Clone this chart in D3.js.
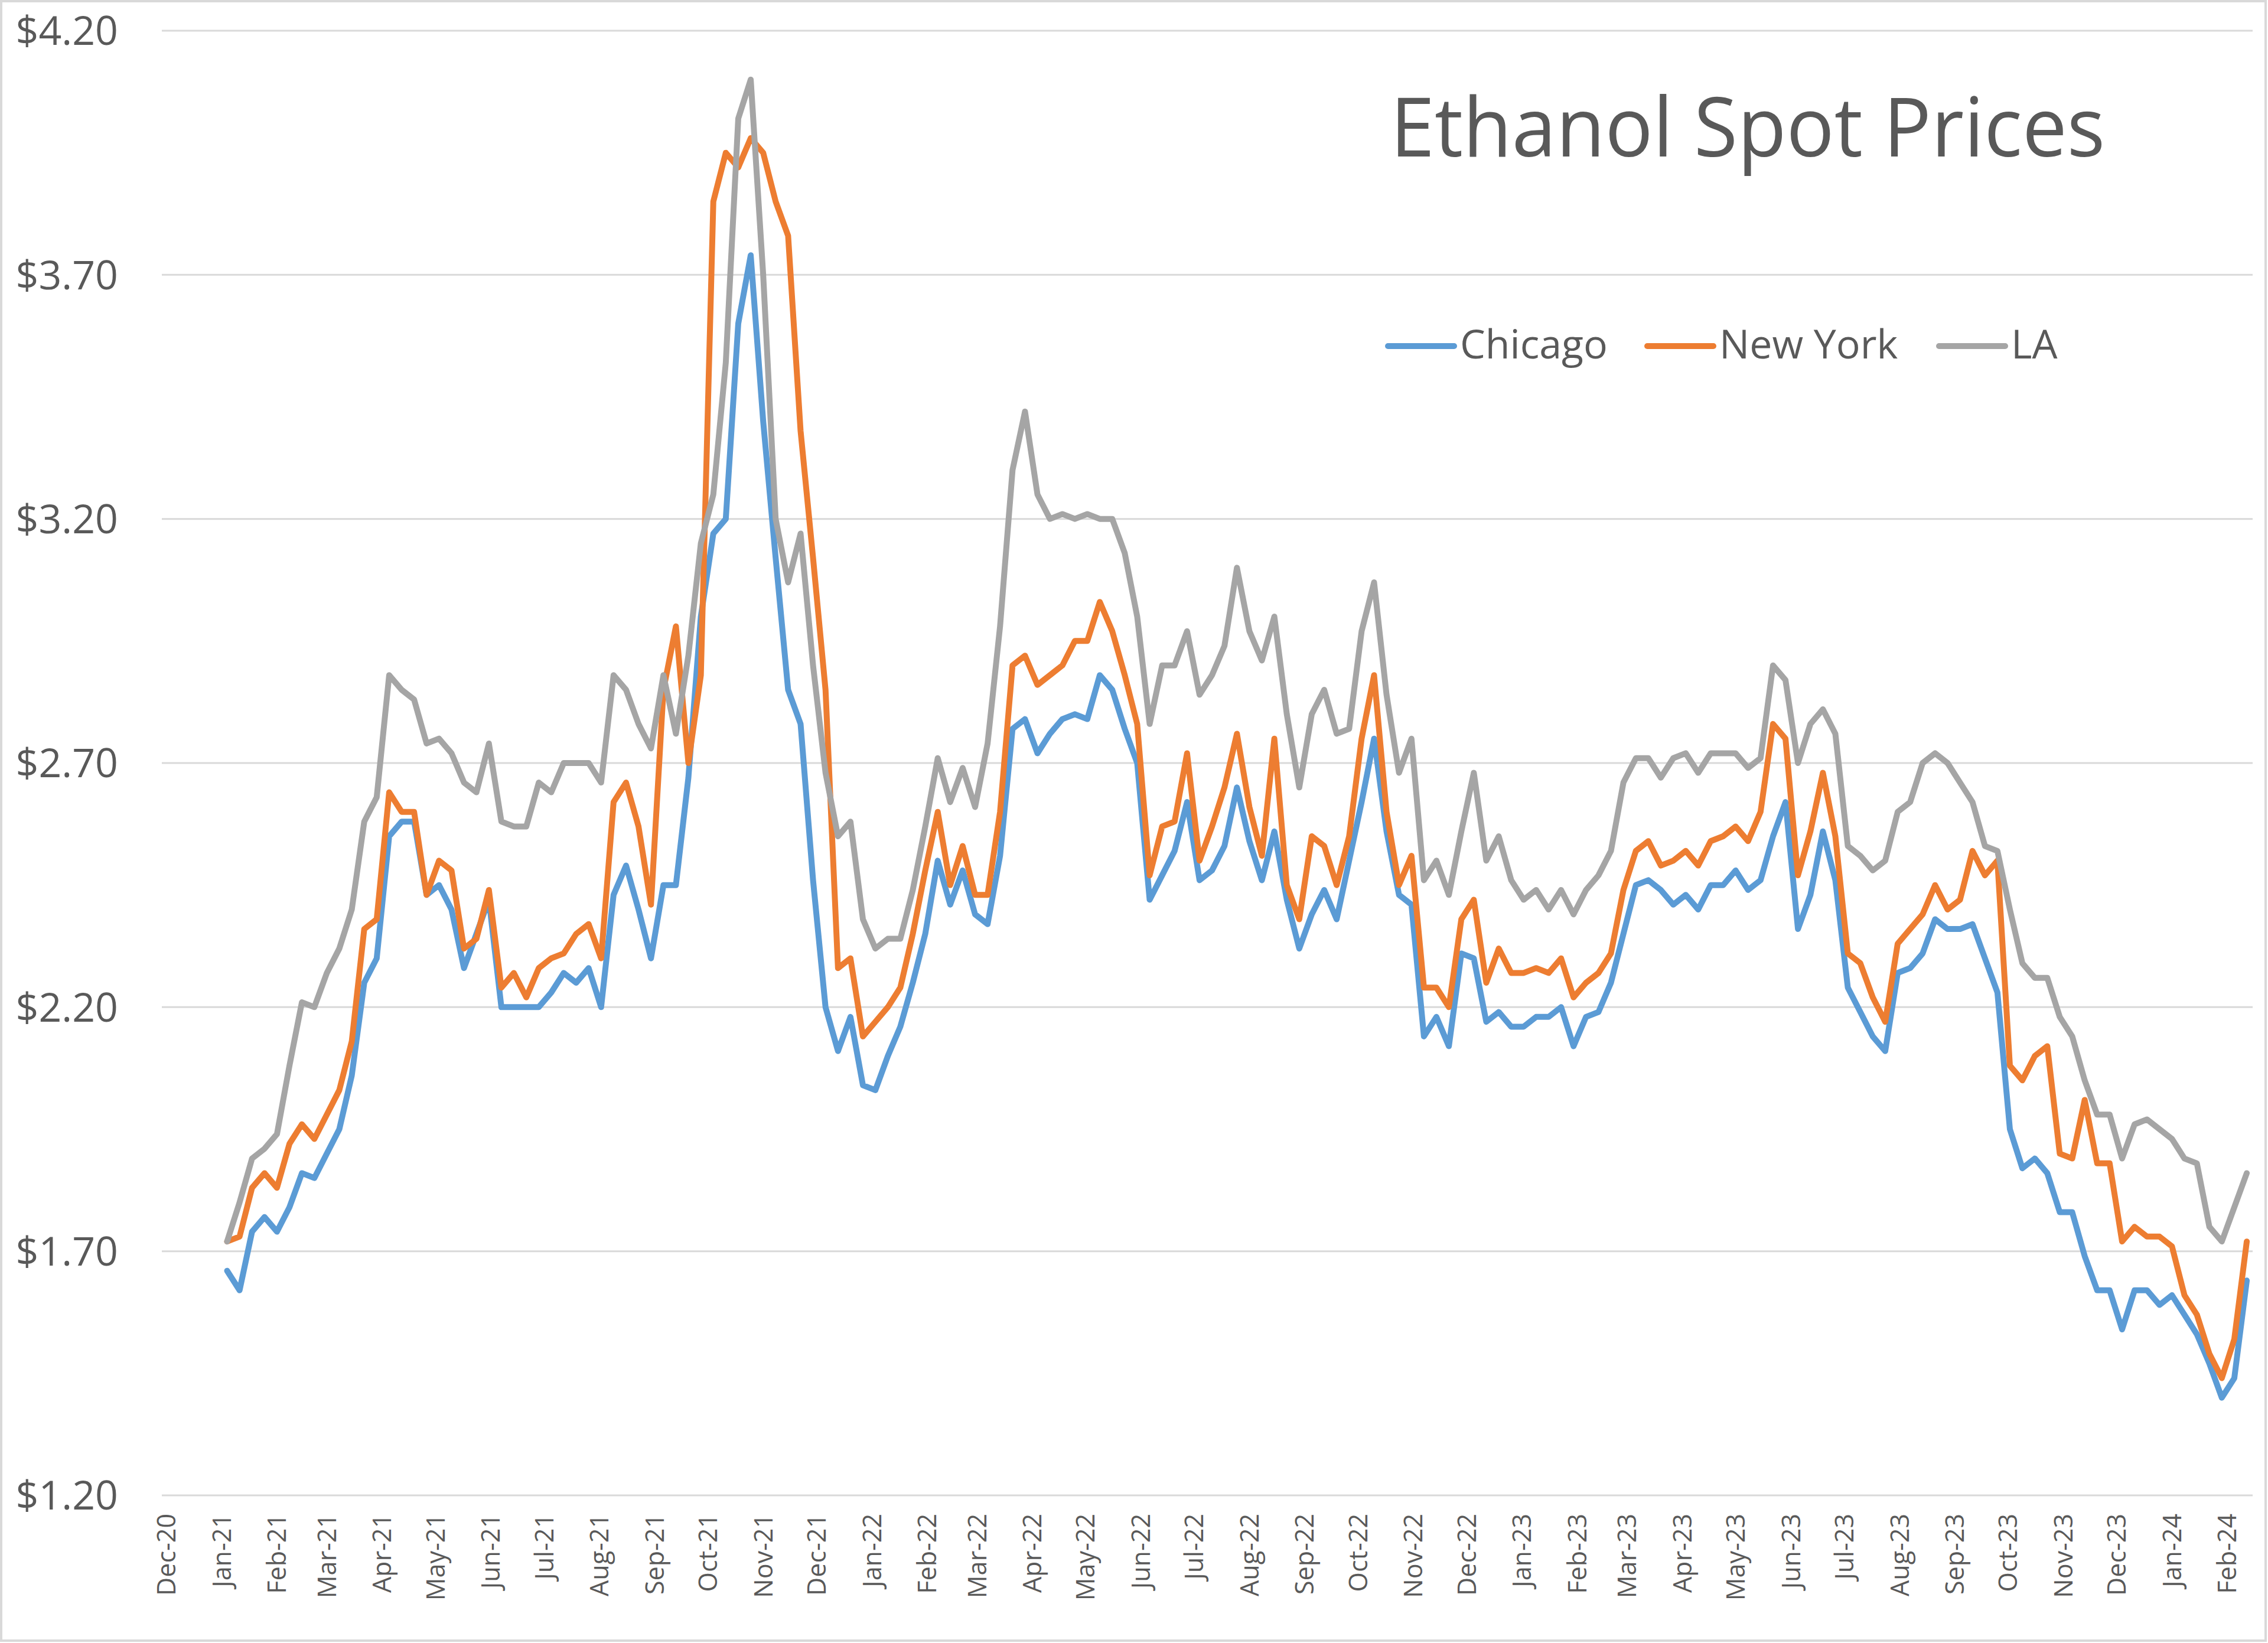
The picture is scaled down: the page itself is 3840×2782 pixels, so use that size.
<!DOCTYPE html>
<html>
<head>
<meta charset="utf-8">
<script src="https://cdn.jsdelivr.net/npm/d3@7"></script>
<style>
  html, body { margin: 0; padding: 0; background: #ffffff; }
  svg { display: block; }
</style>
</head>
<body>
<svg id="chart" width="3840" height="2782"></svg>
<script>
// ---------------- DATA ----------------
const title = "Ethanol Spot Prices";
const seriesNames = ["Chicago", "New York", "LA"];
const firstDate = "2021-01-04";   // weekly observations
const xTickLabels = ["Dec-20","Jan-21","Feb-21","Mar-21","Apr-21","May-21","Jun-21","Jul-21","Aug-21","Sep-21","Oct-21","Nov-21","Dec-21",
  "Jan-22","Feb-22","Mar-22","Apr-22","May-22","Jun-22","Jul-22","Aug-22","Sep-22","Oct-22","Nov-22","Dec-22",
  "Jan-23","Feb-23","Mar-23","Apr-23","May-23","Jun-23","Jul-23","Aug-23","Sep-23","Oct-23","Nov-23","Dec-23",
  "Jan-24","Feb-24"];
const yTicks = [1.20, 1.70, 2.20, 2.70, 3.20, 3.70, 4.20];

const chicago = [1.66,1.62,1.74,1.77,1.74,1.79,1.86,1.85,1.90,1.95,2.06,2.25,2.30,2.55,2.58,2.58,2.43,2.45,2.40,2.28,
  2.35,2.42,2.20,2.20,2.20,2.20,2.23,2.27,2.25,2.28,2.20,2.43,2.49,2.40,2.30,2.45,2.45,2.67,3.00,3.17,
  3.20,3.60,3.74,3.40,3.12,2.85,2.78,2.46,2.20,2.11,2.18,2.04,2.03,2.10,2.16,2.25,2.35,2.50,2.41,2.48,
  2.39,2.37,2.51,2.77,2.79,2.72,2.76,2.79,2.80,2.79,2.88,2.85,2.77,2.70,2.42,2.47,2.52,2.62,2.46,2.48,
  2.53,2.65,2.54,2.46,2.56,2.42,2.32,2.39,2.44,2.38,2.50,2.62,2.75,2.56,2.43,2.41,2.14,2.18,2.12,2.31,
  2.30,2.17,2.19,2.16,2.16,2.18,2.18,2.20,2.12,2.18,2.19,2.25,2.35,2.45,2.46,2.44,2.41,2.43,2.40,2.45,
  2.45,2.48,2.44,2.46,2.55,2.62,2.36,2.43,2.56,2.46,2.24,2.19,2.14,2.11,2.27,2.28,2.31,2.38,2.36,2.36,
  2.37,2.30,2.23,1.95,1.87,1.89,1.86,1.78,1.78,1.69,1.62,1.62,1.54,1.62,1.62,1.59,1.61,1.57,1.53,1.47,
  1.40,1.44,1.64];
const newYork = [1.72,1.73,1.83,1.86,1.83,1.92,1.96,1.93,1.98,2.03,2.13,2.36,2.38,2.64,2.60,2.60,2.43,2.50,2.48,2.32,
  2.34,2.44,2.24,2.27,2.22,2.28,2.30,2.31,2.35,2.37,2.30,2.62,2.66,2.57,2.41,2.85,2.98,2.70,2.88,3.85,
  3.95,3.92,3.98,3.95,3.85,3.78,3.38,3.12,2.85,2.28,2.30,2.14,2.17,2.20,2.24,2.35,2.48,2.60,2.45,2.53,
  2.43,2.43,2.60,2.90,2.92,2.86,2.88,2.90,2.95,2.95,3.03,2.97,2.88,2.78,2.47,2.57,2.58,2.72,2.50,2.57,
  2.65,2.76,2.61,2.51,2.75,2.45,2.38,2.55,2.53,2.45,2.55,2.75,2.88,2.60,2.45,2.51,2.24,2.24,2.20,2.38,
  2.42,2.25,2.32,2.27,2.27,2.28,2.27,2.30,2.22,2.25,2.27,2.31,2.44,2.52,2.54,2.49,2.50,2.52,2.49,2.54,
  2.55,2.57,2.54,2.60,2.78,2.75,2.47,2.56,2.68,2.55,2.31,2.29,2.22,2.17,2.33,2.36,2.39,2.45,2.40,2.42,
  2.52,2.47,2.50,2.08,2.05,2.10,2.12,1.90,1.89,2.01,1.88,1.88,1.72,1.75,1.73,1.73,1.71,1.61,1.57,1.49,
  1.44,1.52,1.72];
const la = [1.72,1.80,1.89,1.91,1.94,2.08,2.21,2.20,2.27,2.32,2.40,2.58,2.63,2.88,2.85,2.83,2.74,2.75,2.72,2.66,
  2.64,2.74,2.58,2.57,2.57,2.66,2.64,2.70,2.70,2.70,2.66,2.88,2.85,2.78,2.73,2.88,2.76,2.92,3.15,3.25,
  3.52,4.02,4.10,3.70,3.20,3.07,3.17,2.90,2.68,2.55,2.58,2.38,2.32,2.34,2.34,2.44,2.57,2.71,2.62,2.69,
  2.61,2.74,2.98,3.30,3.42,3.25,3.20,3.21,3.20,3.21,3.20,3.20,3.13,3.00,2.78,2.90,2.90,2.97,2.84,2.88,
  2.94,3.10,2.97,2.91,3.00,2.80,2.65,2.80,2.85,2.76,2.77,2.97,3.07,2.84,2.68,2.75,2.46,2.50,2.43,2.56,
  2.68,2.50,2.55,2.46,2.42,2.44,2.40,2.44,2.39,2.44,2.47,2.52,2.66,2.71,2.71,2.67,2.71,2.72,2.68,2.72,
  2.72,2.72,2.69,2.71,2.90,2.87,2.70,2.78,2.81,2.76,2.53,2.51,2.48,2.50,2.60,2.62,2.70,2.72,2.70,2.66,
  2.62,2.53,2.52,2.40,2.29,2.26,2.26,2.18,2.14,2.05,1.98,1.98,1.89,1.96,1.97,1.95,1.93,1.89,1.88,1.75,
  1.72,1.79,1.86];
const seriesColors = ["#5B9BD5", "#ED7D31", "#A5A5A5"];

// ---------------- CHART ----------------
const svg = d3.select("#chart");
const W = 3840, H = 2782;
const plot = { left: 274, right: 3814, top: 52, bottom: 2532 };
const textColor = "#595959";
const gridColor = "#D9D9D9";
const font = "'Open Sans', 'Noto Sans', sans-serif";

// outer chart-area border
svg.append("rect")
  .attr("x", 2).attr("y", 2).attr("width", W - 6).attr("height", H - 6)
  .attr("fill", "#ffffff").attr("stroke", gridColor).attr("stroke-width", 4);

const day0 = d3.utcParse("%Y-%m-%d")("2020-12-01");
const msDay = 864e5;
const x = d3.scaleUtc()
  .domain([new Date(+day0 - 2.65 * msDay), new Date(+day0 + 1171.3 * msDay)])
  .range([plot.left, plot.right]);
const y = d3.scaleLinear().domain([1.2, 4.2]).range([plot.bottom, plot.top]);

// gridlines
svg.append("g").selectAll("line").data(yTicks).join("line")
  .attr("x1", plot.left).attr("x2", plot.right)
  .attr("y1", d => y(d)).attr("y2", d => y(d))
  .attr("stroke", gridColor).attr("stroke-width", 3);

// y axis labels
const fmt = d3.format("$.2f");
svg.append("g").selectAll("text").data(yTicks).join("text")
  .attr("x", 200).attr("y", d => y(d)).attr("dy", "0.36em")
  .attr("text-anchor", "end")
  .attr("font-family", font).attr("font-size", 68).attr("fill", textColor)
  .text(d => fmt(d));

// x axis labels (rotated)
const parseTick = d3.utcParse("%b-%y");
svg.append("g").selectAll("text").data(xTickLabels).join("text")
  .attr("transform", d => `translate(${x(parseTick(d))},2563) rotate(-90)`)
  .attr("dy", "0.36em")
  .attr("text-anchor", "end")
  .attr("font-family", font).attr("font-size", 43).attr("fill", textColor)
  .text(d => d);

// series
const start = d3.utcParse("%Y-%m-%d")(firstDate);
const dates = chicago.map((_, i) => d3.utcDay.offset(start, 7 * i));
const allSeries = [chicago, newYork, la];
const line = d3.line().x((d, i) => x(dates[i])).y(d => y(d));
svg.append("g").selectAll("path").data(allSeries).join("path")
  .attr("d", d => line(d))
  .attr("fill", "none")
  .attr("stroke", (d, i) => seriesColors[i])
  .attr("stroke-width", 10)
  .attr("stroke-linejoin", "round")
  .attr("stroke-linecap", "round");

// title
svg.append("text")
  .attr("x", 2354).attr("y", 265)
  .attr("font-family", font).attr("font-size", 140).attr("fill", textColor)
  .attr("textLength", 1210).attr("lengthAdjust", "spacingAndGlyphs")
  .text(title);

// legend
const legendItems = [
  { name: seriesNames[0], x: 2350 },
  { name: seriesNames[1], x: 2789 },
  { name: seriesNames[2], x: 3283 }
];
const lg = svg.append("g");
legendItems.forEach((it, i) => {
  lg.append("line")
    .attr("x1", it.x).attr("x2", it.x + 112)
    .attr("y1", 586).attr("y2", 586)
    .attr("stroke", seriesColors[i]).attr("stroke-width", 10).attr("stroke-linecap", "round");
  lg.append("text")
    .attr("x", it.x + 122).attr("y", 607)
    .attr("font-family", font).attr("font-size", 68).attr("fill", textColor)
    .text(it.name);
});
</script>
</body>
</html>
